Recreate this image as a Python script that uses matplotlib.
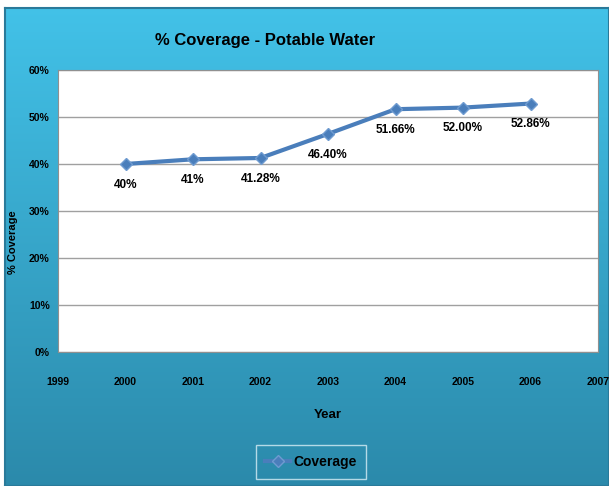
import matplotlib
matplotlib.use("Agg")
import matplotlib.pyplot as plt
import numpy as np

plt.rcParams['font.family'] = ['Liberation Sans Narrow', 'Liberation Sans', 'DejaVu Sans']
plt.rcParams['font.weight'] = 'bold'

# --- donnees ---
years = [2000, 2001, 2002, 2003, 2004, 2005, 2006]
coverage = [40.0, 41.0, 41.28, 46.40, 51.66, 52.00, 52.86]
point_labels = ["40%", "41%", "41.28%", "46.40%", "51.66%", "52.00%", "52.86%"]
y_ticks = [0, 10, 20, 30, 40, 50, 60]
x_ticks = [1999, 2000, 2001, 2002, 2003, 2004, 2005, 2006, 2007]

W, H = 609, 486
fig = plt.figure(figsize=(W / 100, H / 100), dpi=100)
fig.patch.set_facecolor("white")

# fond en degrade (cadre exterieur)
bg = fig.add_axes([5 / W, 0, 1 - 5 / W, 1 - 8 / H])
grad = np.linspace(0, 1, 256)[:, None]
top = np.array([0.26, 0.76, 0.91])
bot = np.array([0.17, 0.54, 0.67])
img = top[None, None, :] * (1 - grad[..., None]) + bot[None, None, :] * grad[..., None]
bg.imshow(img, aspect="auto", extent=[0, 1, 0, 1])
bg.set_xlim(0, 1); bg.set_ylim(0, 1)
bg.set_xticks([]); bg.set_yticks([])
for s in bg.spines.values():
    s.set_color("#2a7a9a")
    s.set_linewidth(1.5)

ax = fig.add_axes([58 / W, 1 - 352 / H, (598 - 58) / W, (352 - 70) / H])
ax.set_facecolor("white")
ax.plot(years, coverage, color="#4a7ebb", linewidth=3, marker="D",
        markersize=6, markerfacecolor="#4a7ebb", markeredgecolor="#6f9bd0",
        label="Coverage", zorder=3)
for x, y, lab in zip(years, coverage, point_labels):
    ax.annotate(lab, (x, y), xytext=(0, -15), textcoords="offset points",
                ha="center", va="center", fontsize=8.5, fontweight="bold")

ax.set_xlim(1999, 2007)
ax.set_ylim(0, 60)
ax.set_xticks(x_ticks)
ax.set_yticks(y_ticks)
ax.set_yticklabels([f"{v}%" for v in y_ticks])
ax.tick_params(axis="both", length=0, labelsize=7.5)
ax.tick_params(axis="x", pad=18)
ax.tick_params(axis="y", pad=6)
ax.grid(axis="y", color="#a0a0a0", linewidth=1)
for s in ax.spines.values():
    s.set_color("#909090")
ax.set_xlabel("Year", fontsize=9.5, fontweight="bold", labelpad=16)
ax.set_ylabel("% Coverage", fontsize=8, fontweight="bold")
ax.yaxis.set_label_coords((18 - 58) / 540, (352 - 242) / 282)

fig.text(265 / W, 1 - 40 / H, "% Coverage - Potable Water", ha="center",
         va="center", fontsize=12, fontweight="bold")

leg = fig.legend(handles=ax.get_lines(), loc="center",
                 bbox_to_anchor=(311 / W, 1 - 462 / H), fontsize=10,
                 frameon=True, fancybox=False, handlelength=1.8,
                 handletextpad=0.2, borderpad=0.7)
leg.get_frame().set_facecolor("none")
leg.get_frame().set_edgecolor("#d8eef6")

fig.savefig("out.png", dpi=100)
